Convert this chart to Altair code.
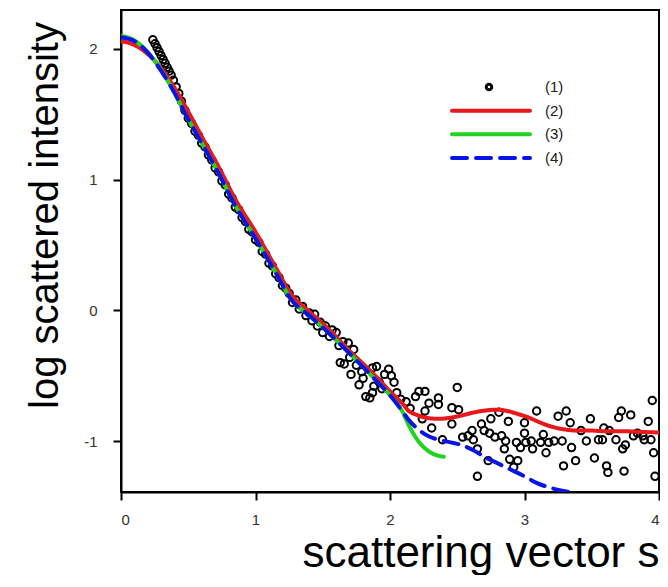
import altair as alt
import pandas as pd

series_names = ["(1)", "(2)", "(3)", "(4)"]
series_colors = ["#000000", "#e8191c", "#1fd31f", "#0a14e6"]

# (1) measured data
obs_s = [0.237, 0.253, 0.268, 0.283, 0.298, 0.313, 0.328, 0.343, 0.358, 0.373, 0.39, 0.41, 0.43, 0.45, 0.475, 0.50,
         0.525, 0.55, 0.575, 0.60, 0.625, 0.65, 0.675, 0.70, 0.725, 0.75, 0.775, 0.80, 0.825, 0.85, 0.875, 0.90,
         0.925, 0.95, 0.975, 1.00, 1.025, 1.05, 1.075, 1.10, 1.125, 1.15, 1.175, 1.20, 1.225,
         1.25, 1.275, 1.30, 1.325, 1.35, 1.375, 1.40, 1.42, 1.44, 1.46, 1.48, 1.50, 1.52, 1.55, 1.57, 1.60,
         1.62, 1.63, 1.65, 1.66, 1.69, 1.70, 1.71, 1.73, 1.75, 1.77, 1.79, 1.80, 1.82, 1.85, 1.87, 1.87,
         1.88, 1.90, 1.92, 1.94, 1.96, 1.99, 2.01, 2.03, 2.05, 2.08, 2.12, 2.15,
         2.19, 2.215, 2.26, 2.29, 2.36, 2.36, 2.26, 2.50, 2.46, 2.51, 2.24, 2.31, 2.39, 2.46, 2.54, 2.58,
         2.62, 2.61, 2.65, 2.65, 2.73, 2.68, 2.70, 2.74, 2.75, 2.78, 2.81, 2.83, 2.86, 2.85, 2.88, 2.89,
         2.92, 2.94, 2.95, 2.97, 3.00, 3.00, 3.01, 3.05, 3.06, 3.09, 3.12, 3.14, 3.16, 3.18, 3.22, 3.25,
         3.28, 3.29, 3.31, 3.34, 3.35, 3.38, 3.42, 3.46, 3.49, 3.52, 3.55, 3.58, 3.59, 3.61, 3.62, 3.63,
         3.68, 3.70, 3.72, 3.73, 3.74, 3.75, 3.79, 3.81, 3.84, 3.88, 3.89, 3.92, 3.94, 3.95, 3.96, 3.97]
obs_v = [2.07, 2.04, 2.01, 1.98, 1.95, 1.92, 1.89, 1.86, 1.83, 1.80, 1.76, 1.71, 1.66, 1.60, 1.53, 1.47,
         1.43, 1.37, 1.34, 1.28, 1.25, 1.19, 1.15, 1.09, 1.06, 0.99, 0.96, 0.89, 0.86, 0.79, 0.77, 0.71,
         0.68, 0.62, 0.60, 0.54, 0.52, 0.45, 0.43, 0.36, 0.34, 0.28, 0.25, 0.19, 0.17,
         0.13, 0.06, 0.08, 0.01, 0.03, -0.04, -0.02, -0.08, -0.03, -0.12, -0.09, -0.17, -0.12, -0.20, -0.15, -0.17,
         -0.27, -0.40, -0.24, -0.41, -0.25, -0.36, -0.49, -0.30, -0.42, -0.57, -0.47, -0.52, -0.66, -0.67, -0.63, -0.44,
         -0.58, -0.43, -0.55, -0.60, -0.49, -0.45, -0.50, -0.55, -0.63, -0.68, -0.70, -0.75,
         -0.66, -0.62, -0.62, -0.71, -0.67, -0.72, -0.77, -0.59, -0.745, -0.76, -0.83, -0.90, -0.99, -0.87, -0.97, -0.96,
         -0.99, -0.92, -1.06, -1.27, -1.15, -0.87, -0.92, -0.94, -0.83, -0.97, -0.78, -0.96, -1.00, -1.06, -0.85, -1.14,
         -1.20, -1.01, -1.15, -1.05, -0.86, -0.94, -1.01, -1.00, -1.06, -0.77, -1.01, -0.95, -1.09, -1.01, -1.00, -0.81,
         -1.00, -1.19, -0.77, -0.86, -1.05, -1.15, -0.92, -1.00, -0.83, -1.13, -0.99, -0.99, -0.90, -1.19, -1.24, -0.92,
         -0.99, -0.82, -0.77, -1.06, -1.23, -1.03, -0.80, -0.96, -0.94, -0.96, -0.99, -0.85, -0.99, -0.69, -1.09, -1.27]

# (2) red fit
fit2_s = [0.0, 0.1, 0.2, 0.3, 0.4, 0.5, 0.6, 0.72, 0.85, 1.0, 1.16, 1.26, 1.4, 1.53, 1.68, 1.9, 2.0, 2.09, 2.14,
          2.2, 2.26, 2.36, 2.46, 2.55, 2.63, 2.72, 2.80, 2.87, 2.94, 3.03, 3.12, 3.2, 3.29, 3.4, 3.49, 3.6,
          3.73, 3.86, 4.0]
fit2_v = [2.06, 2.03, 1.96, 1.85, 1.70, 1.52, 1.33, 1.11, 0.85, 0.60, 0.31, 0.13, -0.01, -0.13, -0.29, -0.51,
          -0.62, -0.71, -0.77, -0.80, -0.82, -0.83, -0.82, -0.80, -0.78, -0.765, -0.76, -0.77, -0.79, -0.82,
          -0.86, -0.89, -0.91, -0.92, -0.92, -0.925, -0.925, -0.93, -0.935]

# (3) green fit
fit3_s = [0.0, 0.1, 0.2, 0.3, 0.4, 0.48, 0.6, 0.72, 0.85, 1.0, 1.16, 1.26, 1.4, 1.53, 1.68, 1.9, 2.0, 2.09,
          2.14, 2.21, 2.29, 2.35, 2.40]
fit3_v = [2.10, 2.065, 1.975, 1.835, 1.66, 1.50, 1.28, 1.06, 0.80, 0.55, 0.27, 0.09, -0.04, -0.16, -0.31,
          -0.54, -0.65, -0.77, -0.88, -1.00, -1.08, -1.11, -1.12]

# (4) blue dashed fit
fit4_s = [0.0, 0.1, 0.2, 0.3, 0.4, 0.48, 0.6, 0.72, 0.85, 1.0, 1.16, 1.26, 1.4, 1.53, 1.68, 1.9, 2.0, 2.09,
          2.14, 2.21, 2.28, 2.36, 2.45, 2.53, 2.62, 2.70, 2.80, 2.90, 3.0, 3.09, 3.2, 3.33]
fit4_v = [2.09, 2.06, 1.97, 1.83, 1.66, 1.50, 1.28, 1.06, 0.80, 0.55, 0.27, 0.09, -0.04, -0.16, -0.31,
          -0.54, -0.65, -0.77, -0.84, -0.91, -0.96, -0.99, -1.01, -1.03, -1.07, -1.12, -1.17, -1.22, -1.27,
          -1.32, -1.36, -1.39]

x_ticks = [0, 1, 2, 3, 4]
y_ticks = [-1, 0, 1, 2]

obs = pd.DataFrame({"s": obs_s, "v": obs_v, "series": "(1)"})
fits = pd.concat([
    pd.DataFrame({"s": fit2_s, "v": fit2_v, "series": "(2)"}),
    pd.DataFrame({"s": fit3_s, "v": fit3_v, "series": "(3)"}),
    pd.DataFrame({"s": fit4_s, "v": fit4_v, "series": "(4)"}),
], ignore_index=True)
legend_df = pd.DataFrame({"series": series_names})

FONT = "Liberation Sans"

x_enc = alt.X("s:Q", scale=alt.Scale(domain=[0, 4], nice=False, zero=False),
              axis=alt.Axis(values=x_ticks, title="scattering vector s", labelExpr="'' + datum.value",
                            titleX=538, titleY=74, titleAlign="right", titleBaseline="alphabetic",
                            titleFontSize=44, labelPadding=12))
y_enc = alt.Y("v:Q", scale=alt.Scale(domain=[-1.39, 2.298], nice=False, zero=False),
              axis=alt.Axis(values=y_ticks, title="log scattered intensity", labelExpr="'' + datum.value",
                            titleX=-64, titleY=205, titleAngle=270, titleAlign="center",
                            titleBaseline="alphabetic", titleFontSize=40, labelPadding=16))

color = alt.Color("series:N", scale=alt.Scale(domain=series_names, range=series_colors), legend=None)
dash = alt.StrokeDash("series:N", scale=alt.Scale(domain=series_names,
                                                  range=[[1, 0], [1, 0], [1, 0], [15, 9]]), legend=None)

points = alt.Chart(obs).mark_point(filled=False, strokeWidth=2, size=55, opacity=1, clip=True).encode(
    x=x_enc, y=y_enc, color=color
)
lines = alt.Chart(fits).mark_line(strokeWidth=4, interpolate="monotone", clip=True,
                                  strokeCap="round").encode(
    x=x_enc, y=y_enc, color=color, strokeDash=dash, detail="series:N"
)
main = alt.layer(points, lines)

# legend drawn from the series list through a point scale
ly = alt.Y("series:N", scale=alt.Scale(type="point", domain=series_names, range=[77, 148], padding=0),
           axis=None)
leg_lines = alt.Chart(legend_df).transform_filter("datum.series != '(1)'").mark_rule(
    strokeWidth=4, strokeCap="round").encode(
    x=alt.value(331), x2=alt.value(409), y=ly, color=color, strokeDash=dash
)
leg_point = alt.Chart(legend_df).transform_filter("datum.series == '(1)'").mark_point(
    filled=False, strokeWidth=3, size=30, opacity=1).encode(
    x=alt.value(368), y=ly, color=color
)
leg_text = alt.Chart(legend_df).mark_text(align="left", baseline="middle", fontSize=15, font=FONT,
                                          color="#222").encode(
    x=alt.value(424), y=ly, text="series:N"
)
legend = alt.layer(leg_lines, leg_point, leg_text)

chart = alt.layer(main, legend).resolve_scale(y="independent").properties(
    width=538, height=482,
    autosize=alt.AutoSizeParams(type="none"),
    padding={"left": 113, "top": 2, "right": 1, "bottom": 83},
).configure_axis(
    grid=False, domainColor="black", domainWidth=2, tickColor="black", tickWidth=2, tickSize=8,
    labelFont=FONT, labelFontSize=15, labelColor="#333", titleFont=FONT, titleColor="black",
    titleFontWeight="normal",
).configure_view(stroke="black", strokeWidth=2)

chart.save("out.html", embed_options={"renderer": "svg", "actions": False})
